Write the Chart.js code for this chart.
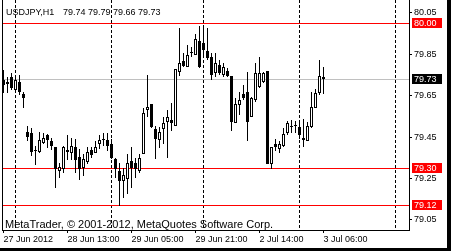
<!DOCTYPE html>
<html>
<head>
<meta charset="utf-8">
<style>
  html, body { margin: 0; padding: 0; background: #fff; }
  canvas { display: block; }
</style>
<script src="https://cdn.jsdelivr.net/npm/chart.js@4/dist/chart.umd.min.js"></script>
</head>
<body>
<canvas id="c" width="451" height="251"></canvas>
<script>
// ---- data (USDJPY, H1) ----
const symbol = 'USDJPY';
const period = 'H1';
const open = [
  79.725, 79.715, 79.739, 79.676, 79.715, 79.657, 79.477, 79.469, 79.383, 79.377,
  79.424, 79.458, 79.429, 79.400, 79.288, 79.298, 79.380, 79.375, 79.400, 79.356,
  79.302, 79.332, 79.390, 79.375, 79.419, 79.438, 79.438, 79.419, 79.346, 79.288,
  79.239, 79.249, 79.336, 79.327, 79.288, 79.370, 79.579, 79.608, 79.487, 79.438,
  79.487, 79.521, 79.535, 79.506, 79.764, 79.817, 79.788, 79.856, 79.846, 79.914,
  79.904, 79.866, 79.836, 79.759, 79.797, 79.749, 79.768, 79.744, 79.516, 79.603,
  79.657, 79.667, 79.545, 79.628, 79.691, 79.715, 79.768, 79.322, 79.419, 79.395,
  79.409, 79.472, 79.506, 79.506, 79.497, 79.438, 79.433, 79.497, 79.593, 79.662,
  79.74
];
const high = [
  79.773, 79.739, 79.758, 79.749, 79.749, 79.667, 79.506, 79.492, 79.409, 79.474,
  79.472, 79.467, 79.448, 79.400, 79.327, 79.409, 79.462, 79.448, 79.443, 79.395,
  79.370, 79.404, 79.400, 79.433, 79.458, 79.472, 79.472, 79.443, 79.351, 79.327,
  79.302, 79.370, 79.400, 79.351, 79.370, 79.589, 79.749, 79.608, 79.506, 79.497,
  79.545, 79.579, 79.613, 79.778, 79.977, 79.856, 79.895, 79.885, 79.948, 79.987,
  79.982, 79.977, 79.856, 79.856, 79.822, 79.807, 79.783, 79.744, 79.637, 79.667,
  79.700, 79.763, 79.642, 79.807, 79.836, 79.764, 79.768, 79.400, 79.443, 79.433,
  79.492, 79.526, 79.531, 79.526, 79.526, 79.540, 79.521, 79.667, 79.681, 79.822,
  79.79
];
const low = [
  79.662, 79.662, 79.676, 79.667, 79.652, 79.589, 79.433, 79.361, 79.317, 79.375,
  79.419, 79.399, 79.390, 79.206, 79.254, 79.278, 79.341, 79.341, 79.278, 79.244,
  79.264, 79.322, 79.351, 79.375, 79.395, 79.409, 79.385, 79.346, 79.254, 79.118,
  79.157, 79.176, 79.206, 79.254, 79.278, 79.370, 79.545, 79.492, 79.346, 79.399,
  79.419, 79.351, 79.482, 79.506, 79.744, 79.788, 79.788, 79.836, 79.846, 79.783,
  79.832, 79.822, 79.725, 79.739, 79.749, 79.739, 79.739, 79.482, 79.516, 79.555,
  79.628, 79.433, 79.545, 79.618, 79.686, 79.710, 79.322, 79.298, 79.385, 79.375,
  79.400, 79.458, 79.472, 79.472, 79.443, 79.400, 79.433, 79.492, 79.589, 79.652,
  79.66
];
const close = [
  79.700, 79.705, 79.686, 79.725, 79.667, 79.637, 79.453, 79.377, 79.381, 79.437,
  79.448, 79.438, 79.409, 79.298, 79.307, 79.400, 79.390, 79.409, 79.341, 79.298,
  79.346, 79.380, 79.366, 79.400, 79.438, 79.440, 79.409, 79.351, 79.298, 79.239,
  79.268, 79.327, 79.302, 79.298, 79.351, 79.569, 79.598, 79.497, 79.443, 79.477,
  79.516, 79.545, 79.516, 79.778, 79.807, 79.793, 79.846, 79.861, 79.924, 79.788,
  79.870, 79.832, 79.749, 79.807, 79.759, 79.788, 79.744, 79.521, 79.608, 79.628,
  79.637, 79.521, 79.637, 79.759, 79.759, 79.759, 79.322, 79.400, 79.400, 79.419,
  79.467, 79.516, 79.497, 79.506, 79.458, 79.448, 79.506, 79.598, 79.662, 79.744,
  79.73
];
const timeTickBars = [0, 16, 32, 48, 64, 80];
const timeLabels = ['27 Jun 2012', '28 Jun 13:00', '29 Jun 05:00', '29 Jun 21:00', '2 Jul 14:00', '3 Jul 06:00'];
const daySeparators = [3, 27, 50, 74, 98];
const priceTicks = [79.05, 79.25, 79.45, 79.65, 79.85, 80.05];
const redLevels = [80.00, 79.30, 79.12];
const copyright = 'MetaTrader, \u00A9 2001-2012, MetaQuotes Software Corp.';

// ---- view range ----
const xMin = -0.375, xMax = 101.375;
const yMin = 79.0014, yMax = 80.1126;

const FONT = 'Liberation Sans, Arial, sans-serif';
const bars = open.map((_, i) => i);
const last = open.length - 1;
const bid = close[last];

const overlay = {
  id: 'overlay',
  beforeDatasetsDraw(chart) {
    const { ctx, chartArea: a, scales: { x, y } } = chart;
    // snap bars to whole pixels
    chart.getSortedVisibleDatasetMetas().forEach(meta => {
      meta.data.forEach(el => {
        let t = Math.round(el.y), b = Math.round(el.base);
        if (t === b) t = b - 1;
        el.y = t; el.base = b;
      });
    });
    ctx.save();
    ctx.lineWidth = 1;
    ctx.strokeStyle = '#000';
    ctx.setLineDash([3, 2]);
    daySeparators.forEach(d => {
      const px = Math.round(x.getPixelForValue(d) - 0.5) + 0.5;
      ctx.beginPath(); ctx.moveTo(px, a.top); ctx.lineTo(px, a.bottom); ctx.stroke();
    });
    ctx.setLineDash([]);
    ctx.fillStyle = '#C0C0C0';
    ctx.fillRect(a.left, Math.floor(y.getPixelForValue(bid)), a.right - a.left, 1);
    ctx.fillStyle = '#FF0000';
    redLevels.forEach(v => {
      ctx.fillRect(a.left, Math.floor(y.getPixelForValue(v)), a.right - a.left, 1);
    });
    ctx.restore();
  },
  afterDraw(chart) {
    const { ctx, chartArea: a, scales: { y } } = chart;
    ctx.save();
    // frame
    ctx.fillStyle = '#000';
    ctx.fillRect(a.left, 0, 1, a.bottom + 1);
    ctx.fillRect(a.right, 0, 1, a.bottom + 1);
    ctx.fillRect(a.left, a.bottom, a.right - a.left + 1, 1);
    // price boxes
    ctx.font = '9px ' + FONT;
    ctx.textBaseline = 'middle';
    ctx.textAlign = 'left';
    const box = (v, col) => {
      const py = Math.floor(y.getPixelForValue(v));
      ctx.fillStyle = col;
      ctx.fillRect(a.right + 3, py - 5, 30, 10);
      ctx.fillStyle = '#fff';
      ctx.fillText(v.toFixed(2), a.right + 5, py + 0.5);
    };
    redLevels.forEach(v => box(v, '#FF0000'));
    box(bid, '#000');
    // title
    ctx.fillStyle = '#000';
    ctx.textBaseline = 'alphabetic';
    ctx.font = '9px ' + FONT;
    ctx.fillText(symbol + ',' + period, 6, 15);
    ctx.fillText([open[last], high[last], low[last], close[last]].map(v => v.toFixed(2)).join(' '), 63, 15);
    // copyright
    ctx.font = '11px ' + FONT;
    ctx.fillText(copyright, 5, 228);
    // outer dark border
    ctx.fillRect(447, 0, 4, 251);
    ctx.fillRect(0, 248, 451, 3);
    ctx.restore();
  }
};

new Chart(document.getElementById('c'), {
  type: 'bar',
  data: {
    datasets: [
      {
        label: 'body',
        data: bars.map(i => ({ x: i, y: [Math.min(open[i], close[i]), Math.max(open[i], close[i])] })),
        backgroundColor: bars.map(i => close[i] < open[i] ? '#000' : '#fff'),
        borderColor: '#000',
        borderWidth: 1,
        borderSkipped: false,
        barThickness: 3,
        minBarLength: 1,
        inflateAmount: 0,
        grouped: false
      },
      {
        label: 'wick',
        data: bars.map(i => ({ x: i, y: [low[i], high[i]] })),
        backgroundColor: '#000',
        borderWidth: 0,
        barThickness: 1,
        inflateAmount: 0,
        grouped: false
      }
    ]
  },
  options: {
    responsive: false,
    devicePixelRatio: 1,
    animation: false,
    layout: { padding: { left: 2, top: 0, right: 0, bottom: 0 } },
    plugins: { legend: { display: false }, tooltip: { enabled: false } },
    scales: {
      x: {
        type: 'linear', position: 'bottom', min: xMin, max: xMax, offset: false,
        grid: { display: true, drawOnChartArea: false, drawTicks: true, tickLength: 3, tickColor: '#000', offset: false },
        border: { display: false },
        ticks: {
          autoSkip: false, maxRotation: 0, minRotation: 0, align: 'start', padding: 1,
          color: '#000', font: { family: FONT, size: 9 },
          callback: (v, i) => timeLabels[i]
        },
        afterBuildTicks: s => { s.ticks = timeTickBars.map(v => ({ value: v })); },
        afterFit: s => { s.height = 21; s.paddingLeft = 0; s.paddingRight = 0; }
      },
      y: {
        type: 'linear', position: 'right', min: yMin, max: yMax,
        grid: { drawOnChartArea: false, drawTicks: true, tickLength: 3, tickColor: '#000' },
        border: { display: false },
        ticks: {
          padding: 2, color: '#000', font: { family: FONT, size: 9 },
          callback: v => Number(v).toFixed(2)
        },
        afterBuildTicks: s => { s.ticks = priceTicks.map(v => ({ value: v })); },
        afterFit: s => { s.width = 42; s.paddingTop = 0; s.paddingBottom = 0; }
      }
    }
  },
  plugins: [overlay]
});
</script>
</body>
</html>
